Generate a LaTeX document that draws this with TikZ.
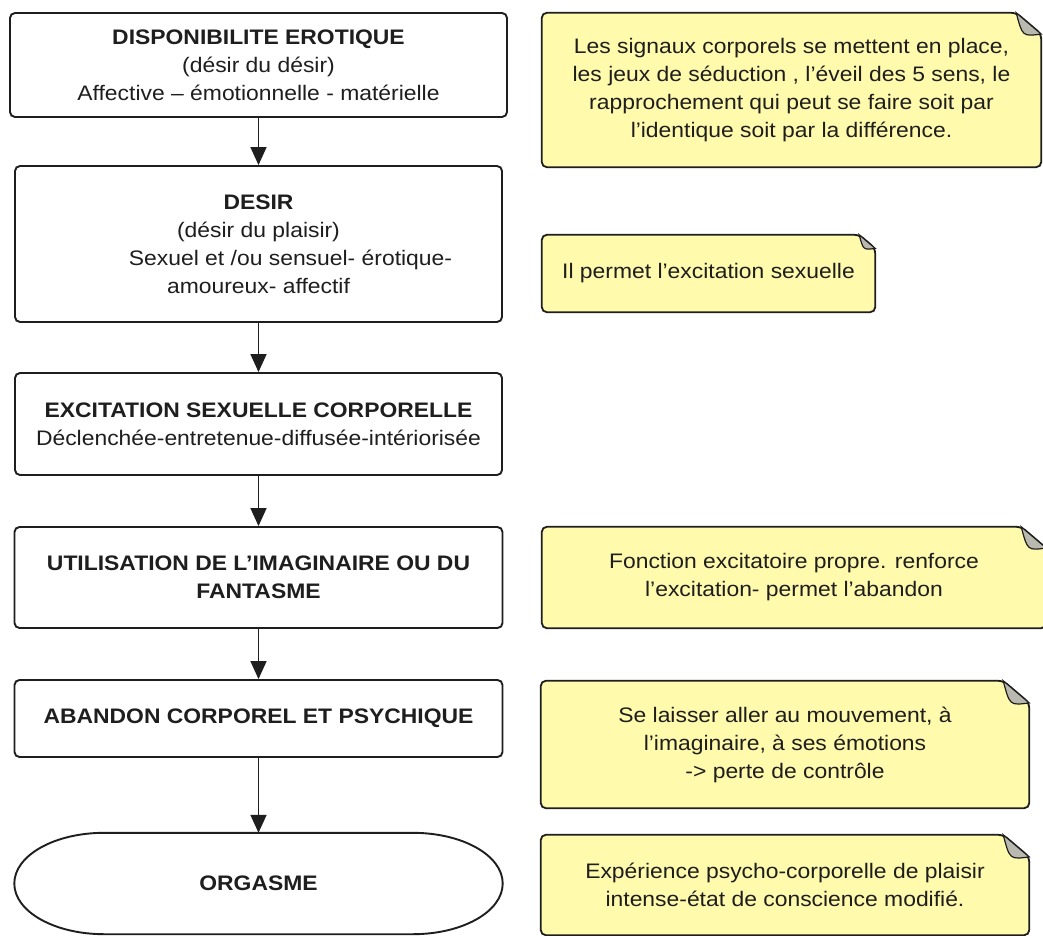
\documentclass[tikz,border=0pt]{standalone}
\usepackage{fontspec}
\setmainfont{Liberation Sans}[FakeStretch=1.09]
\usetikzlibrary{arrows.meta,calc,backgrounds}
\definecolor{notey}{RGB}{255,250,172}
\definecolor{ink}{RGB}{30,30,30}
\definecolor{curlgray}{RGB}{185,185,175}
\newcommand\drawnote[2]{%
  \filldraw[fill=notey, draw=ink, line width=1.8pt, rounded corners=5pt]
    ($(#1.north east)+(-#2,0)$) -- (#1.north west) -- (#1.south west) -- (#1.south east) -- ($(#1.north east)+(0,0.85*#2)$) -- cycle;
  \filldraw[fill=curlgray, draw=ink, line width=1.2pt]
    ($(#1.north east)+(-#2,0)$) .. controls ($(#1.north east)+(-0.75*#2,0.95*#2)$) .. ($(#1.north east)+(0,0.85*#2)$) -- cycle;
}
\begin{document}
\begin{tikzpicture}[x=1pt,y=-1pt,
  every node/.style={font=\fontsize{21}{28}\selectfont, text=ink, align=center, inner sep=0pt},
  stepbox/.style={draw=ink, line width=1.9pt, rounded corners=5pt, fill=white},
  notebox/.style={},
  flow/.style={draw=ink, line width=1.6pt, -{Triangle[width=16pt,length=18pt]}}]
\useasboundingbox (0,0) rectangle (1043,936);

% flow boxes
\node[stepbox, minimum width=497pt, minimum height=104pt] (b1) at (258.5,65)
  {\textbf{DISPONIBILITE EROTIQUE}\\(désir du désir)\\Affective – émotionnelle - matérielle};
\node[stepbox, minimum width=487pt, minimum height=156pt] (b2) at (258.5,244)
  {\textbf{DESIR}\\(désir du plaisir)\\\hspace*{64pt}Sexuel et /ou sensuel- érotique-\\amoureux- affectif};
\node[stepbox, minimum width=487pt, minimum height=102pt] (b3) at (258.5,424)
  {\textbf{EXCITATION SEXUELLE CORPORELLE}\\Déclenchée-entretenue-diffusée-intériorisée};
\node[stepbox, minimum width=488pt, minimum height=101pt] (b4) at (258.5,577.5)
  {\textbf{UTILISATION DE L'IMAGINAIRE OU DU}\\\textbf{FANTASME}};
\node[stepbox, minimum width=488pt, minimum height=77pt] (b5) at (258.5,718.5)
  {\textbf{ABANDON CORPOREL ET PSYCHIQUE}};
\node[minimum width=488pt, minimum height=101pt] (org) at (258.5,883.5)
  {\textbf{ORGASME}};
\draw[ink, line width=1.9pt]
  ($(org.north west)+(90,0)$) -- ($(org.north east)+(-90,0)$)
  .. controls +(50,0) and +(0,-28) .. (org.east)
  .. controls +(0,28) and +(50,0) .. ($(org.south east)+(-90,0)$)
  -- ($(org.south west)+(90,0)$)
  .. controls +(-50,0) and +(0,28) .. (org.west)
  .. controls +(0,-28) and +(-50,0) .. ($(org.north west)+(90,0)$);

% connectors
\draw[flow] (b1) -- (b2);
\draw[flow] (b2) -- (b3);
\draw[flow] (b3) -- (b4);
\draw[flow] (b4) -- (b5);
\draw[flow] (b5) -- (org);

% notes
\node[notebox, minimum width=499pt, minimum height=154pt] (n1) at (791.5,90)
  {Les signaux corporels se mettent en place,\\les jeux de séduction , l'éveil des 5 sens, le\\rapprochement qui peut se faire soit par\\l'identique soit par la différence.};
\node[notebox, minimum width=333pt, minimum height=77pt] (n2) at (708.5,273.5)
  {Il permet l'excitation sexuelle};
\node[notebox, minimum width=504pt, minimum height=101pt] (n3) at (794,577.5)
  {Fonction excitatoire propre. renforce\\l'excitation- permet l'abandon};
\node[notebox, minimum width=488pt, minimum height=127pt] (n4) at (785,744.5)
  {Se laisser aller au mouvement, à\\l'imaginaire, à ses émotions\\-> perte de contrôle};
\node[notebox, minimum width=488pt, minimum height=100pt] (n5) at (785,885)
  {Expérience psycho-corporelle de plaisir\\intense-état de conscience modifié.};

\begin{scope}[on background layer]
  \fill[white] (0,0) rectangle (1043,936);
  \drawnote{n1}{25}
  \drawnote{n2}{16}
  \drawnote{n3}{25}
  \drawnote{n4}{26}
  \drawnote{n5}{26}
\end{scope}
\end{tikzpicture}
\end{document}
